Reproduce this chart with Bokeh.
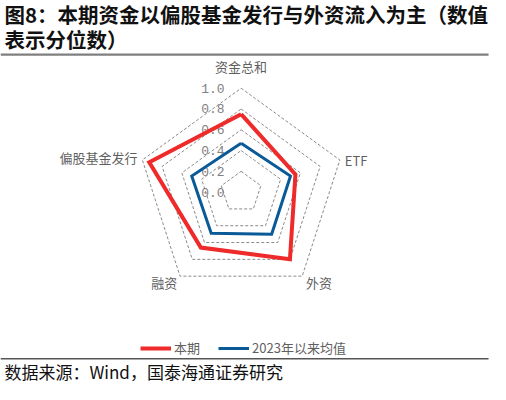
import math
from bokeh.plotting import figure
from bokeh.models import Range1d, ColumnDataSource, Legend, LegendItem
from bokeh.core.properties import value
from bokeh.embed import file_html
from bokeh.resources import INLINE

# ---------------- data ----------------
categories = ["资金总和", "ETF", "外资", "融资", "偏股基金发行"]
current = [0.75, 0.55, 0.80, 0.66, 0.93]
avg_2023 = [0.47, 0.50, 0.50, 0.49, 0.50]
series_names = ["本期", "2023年以来均值"]
ring_levels = [0.2, 0.4, 0.6, 0.8, 1.0]
tick_values = [0.0, 0.2, 0.4, 0.6, 0.8, 1.0]
tick_labels = ["0.0", "0.2", "0.4", "0.6", "0.8", "1.0"]
title_lines = ["图8：本期资金以偏股基金发行与外资流入为主（数值", "表示分位数）"]
source_text = "数据来源：Wind，国泰海通证券研究"

# ---------------- layout ----------------
R = 106.6            # reference px per radar unit
CX, CY = 247.0, 198.6


def ux(X):
    return (X - CX) / R


def uy(Y):
    return (CY - Y) / R


CJK = "Noto Sans CJK SC"
RED = "#EE2A2A"
BLUE = "#0B5A98"
GRAY_TXT = "#5f5f5f"

p = figure(width=490, height=384, output_backend="svg", toolbar_location=None,
           x_range=Range1d(ux(0), ux(503)), y_range=Range1d(uy(396), uy(2)),
           x_axis_location=None, y_axis_location=None, min_border=0,
           background_fill_color="white", border_fill_color="white")
p.grid.visible = False
p.outline_line_color = None

n = len(categories)
angles = [2 * math.pi * i / n for i in range(n)]


def polar(vals):
    xs = [v * math.sin(a) for v, a in zip(vals, angles)]
    ys = [v * math.cos(a) for v, a in zip(vals, angles)]
    return xs + xs[:1], ys + ys[:1]


# grid rings
ring_xs, ring_ys = [], []
for lv in ring_levels:
    xs, ys = polar([lv] * n)
    ring_xs.append(xs)
    ring_ys.append(ys)
p.multi_line(xs=ring_xs, ys=ring_ys, line_color="#8a8a8a", line_width=1,
             line_dash="3 2")

# tick labels along top axis
p.text(x=[ux(230)] * len(tick_values), y=tick_values, text=tick_labels,
       text_font=value("Liberation Mono"), text_font_size="13px",
       text_color="#808080", text_align="right", text_baseline="middle")

# category labels
lab_off = [(0, -22, "center"), (5, 0, "left"), (4, 6, "left"),
           (-3, 6, "right"), (-5, -3, "right")]
lx, ly, la = [], [], []
for a, (dx, dy, al) in zip(angles, lab_off):
    lx.append(math.sin(a) + dx / R)
    ly.append(math.cos(a) - dy / R)
    la.append(al)
p.text(x=lx, y=ly, text=categories, text_align=la,
       text_font=value(CJK), text_font_size="13px", text_color=GRAY_TXT,
       text_baseline="middle")

# series
cx_, cy_ = polar(current)
ax_, ay_ = polar(avg_2023)
r_avg = p.line(ax_, ay_, line_color=BLUE, line_width=3, line_join="miter")
r_cur = p.line(cx_, cy_, line_color=RED, line_width=4, line_join="miter")

legend = Legend(items=[LegendItem(label=series_names[0], renderers=[r_cur]),
                       LegendItem(label=series_names[1], renderers=[r_avg])],
                orientation="horizontal", location=(140, 27),
                border_line_color=None, background_fill_alpha=0,
                padding=0, margin=0, spacing=18, glyph_width=31,
                glyph_height=16, label_standoff=3,
                label_text_font=CJK, label_text_font_size="13px",
                label_text_color=GRAY_TXT)
p.add_layout(legend, "center")

# title
p.text(x=[ux(4)] * 2, y=[uy(16), uy(41)], text=title_lines,
       text_font=value(CJK), text_font_size="20.5px", text_font_style="bold",
       text_color="#111111", text_baseline="middle")
# separators
p.segment(x0=[ux(0), ux(0)], y0=[uy(57.5), uy(369.5)],
          x1=[ux(501), ux(501)], y1=[uy(57.5), uy(369.5)],
          line_color=["#7f7f7f", "#555555"], line_width=[2.2, 1.5])
# source
p.text(x=[ux(4)], y=[uy(383)], text=[source_text],
       text_font=value(CJK), text_font_size="17px", text_color="#111111",
       text_baseline="middle")

open("out.html", "w").write(file_html(p, INLINE))
